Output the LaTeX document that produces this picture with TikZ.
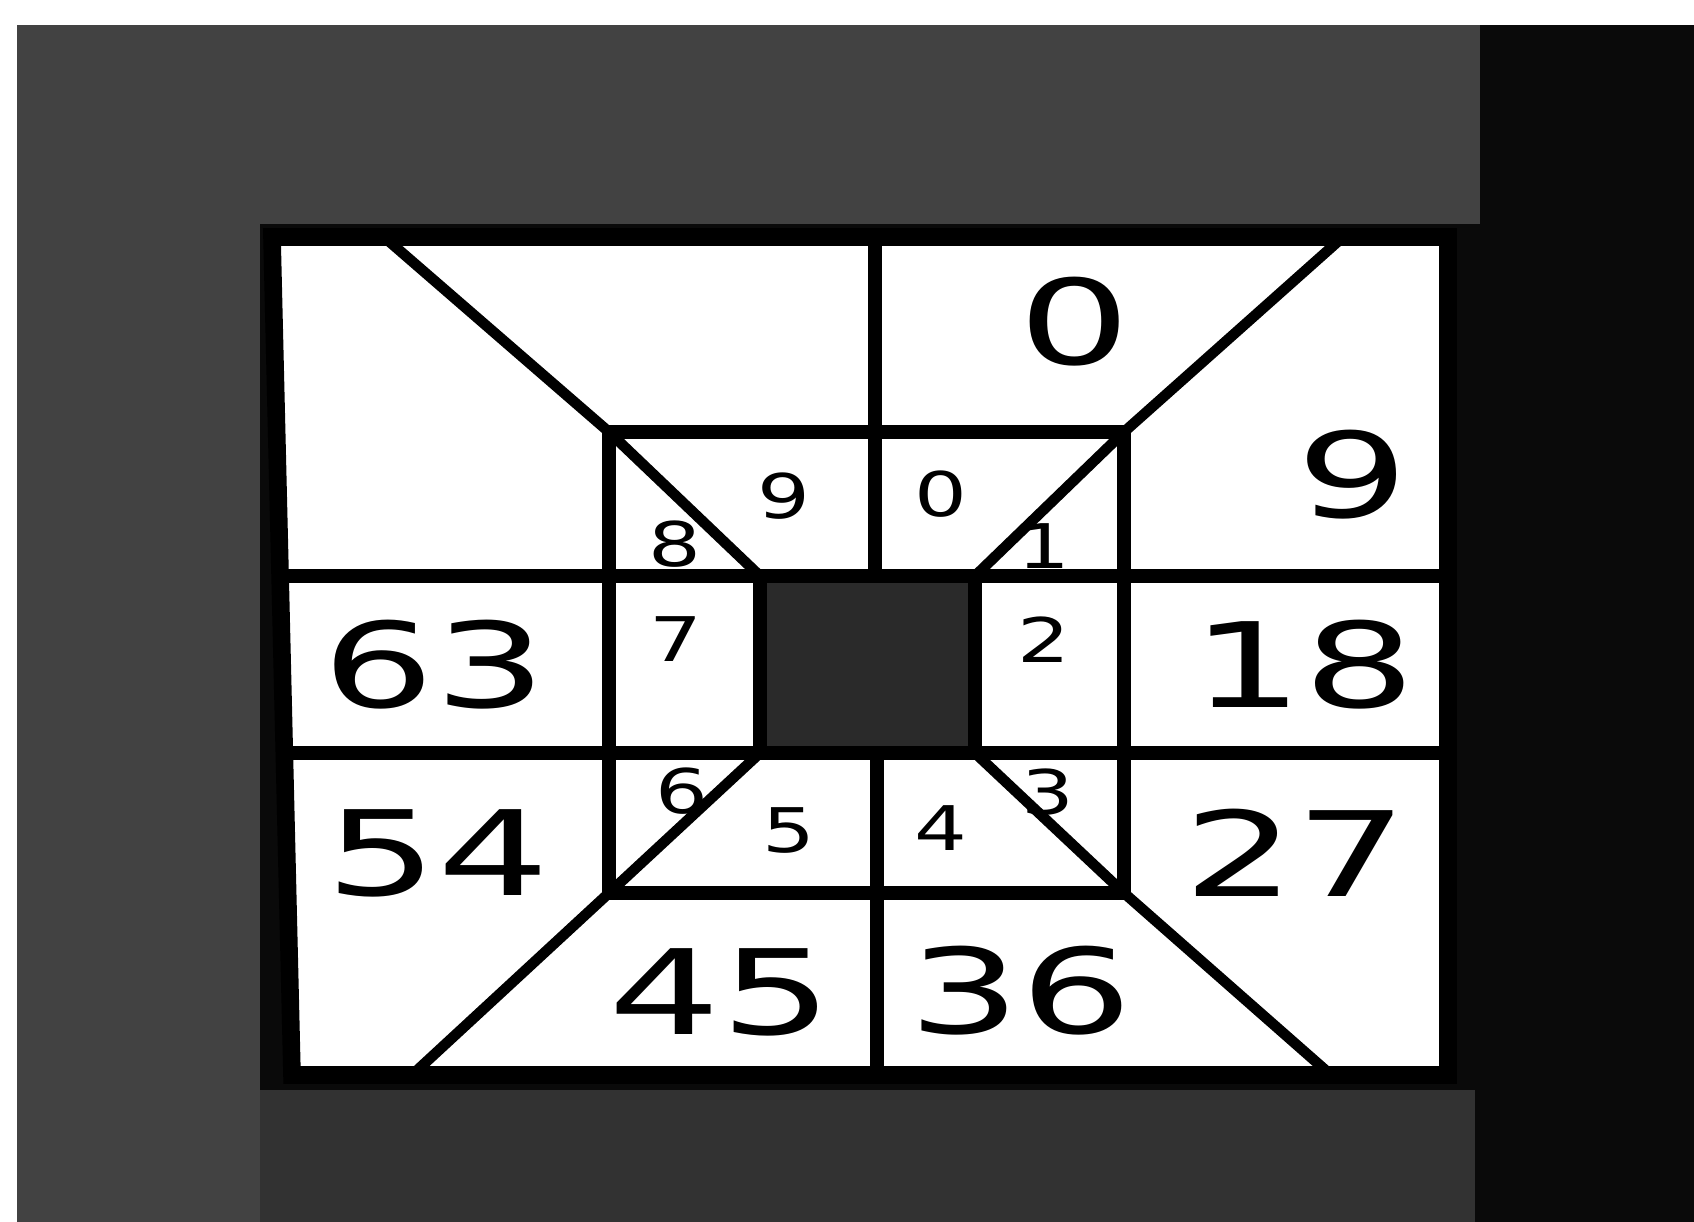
\documentclass[tikz,border=0pt]{standalone}
\usepackage{fontspec}
\usetikzlibrary{calc}
\newfontfamily\plotfont[FakeStretch=1.5]{DejaVu Sans}
\newfontfamily\plotsmall[FakeStretch=1.35]{DejaVu Sans}
\definecolor{scan}{HTML}{0A0A0A}
\definecolor{scangrey}{HTML}{424242}
\definecolor{scanmid}{HTML}{323232}
\definecolor{core}{HTML}{2A2A2A}

\begin{document}
\begin{tikzpicture}[x=0.01cm, y=-0.01cm,
    grid/.style={line width=4.2pt, line join=miter},
    diag/.style={line width=3pt, line cap=round},
    big/.style={font=\plotfont\fontsize{33.5}{33.5}\selectfont, inner sep=0pt},
    small/.style={font=\plotsmall\fontsize{17.5}{17.5}\selectfont, inner sep=0pt}]
  \useasboundingbox (0,0) rectangle (1694,1222);
  % scanned backdrop
  \fill[white] (0,0) rectangle (1694,1222);
  \fill[scan] (17,25) rectangle (1694,1222);
  \fill[scangrey] (17,25) rectangle (1480,224);
  \fill[scangrey] (17,224) rectangle (260,1222);
  \fill[scanmid] (260,1090) rectangle (1475,1222);

  % corners of the board
  \coordinate (otl) at (272,237);
  \coordinate (otr) at (1448,237);
  \coordinate (obr) at (1448,1075);
  \coordinate (obl) at (292,1075);
  \coordinate (itl) at (609,432);
  \coordinate (itr) at (1124,432);
  \coordinate (ibr) at (1124,893);
  \coordinate (ibl) at (609,893);
  \coordinate (ctl) at (760,576);
  \coordinate (ctr) at (975,576);
  \coordinate (cbr) at (975,753);
  \coordinate (cbl) at (760,753);

  \filldraw[fill=white, draw=black, line width=5pt] (otl) -- (otr) -- (obr) -- (obl) -- cycle;

  % cross lines
  \draw[grid] (280,576) -- (otr |- ctr);
  \draw[grid] (284,753) -- (obr |- cbr);
  \draw[grid] (875,237) -- (875,576);
  \draw[grid] (877,753) -- (877,1075);
  \draw[grid] (itl) rectangle (ibr);
  \filldraw[fill=core, draw=black, grid] (ctl) rectangle (cbr);

  % diagonals
  \draw[diag] (384,237) -- (itl) -- (ctl);
  \draw[diag] (1343,237) -- (itr) -- (ctr);
  \draw[diag] (412,1075) -- (ibl) -- (cbl);
  \draw[diag] (1331,1075) -- (ibr) -- (cbr);

  % outer numbers
  \node[big] (o0) at (1075,322) {0};
  \node[big] (o9) at (1353,475) {9};
  \node[big] (o18) at (1304,665) {18};
  \node[big] (o27) at (1296,853) {27};
  \node[big] (o36) at (1021,991) {36};
  \node[big] (o45) at (721,992) {45};
  \node[big] (o54) at (438,853) {54};
  \node[big] (o63) at (435,665) {63};

  % inner numbers
  \node[small] (i0) at (941,494) {0};
  \node[small] (i1) at (1044,546) {1};
  \node[small] (i2) at (1044,640) {2};
  \node[small] (i3) at (1048,792) {3};
  \node[small] (i4) at (941,828) {4};
  \node[small] (i5) at (789,831) {5};
  \node[small] (i6) at (682,791) {6};
  \node[small] (i7) at (676,639) {7};
  \node[small] (i8) at (675,544) {8};
  \node[small] (i9) at (784,496) {9};
\end{tikzpicture}
\end{document}
